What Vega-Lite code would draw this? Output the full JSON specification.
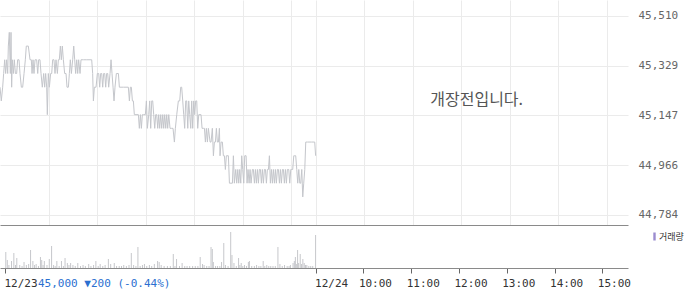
{
  "$schema": "https://vega.github.io/schema/vega-lite/v6.json",
  "padding": {"left": -1, "top": 0, "right": 0, "bottom": 0},
  "spacing": 1,
  "bounds": "flush",
  "config": {"view": {"stroke": null}, "font": "DejaVu Sans Mono"},
  "datasets": {
    "price": [
      {"t":0,"price":45250},{"t":1.6,"price":45200},{"t":3.3,"price":45250},{"t":4.5,"price":45300},{"t":5.8,"price":45350},{"t":7.0,"price":45300},{"t":8.2,"price":45350},{"t":9.5,"price":45300},{"t":10.3,"price":45400},{"t":11.5,"price":45450},{"t":12.8,"price":45300},{"t":13.6,"price":45450},{"t":14.4,"price":45250},{"t":15.2,"price":45350},{"t":16.5,"price":45300},{"t":17.7,"price":45350},{"t":19.0,"price":45300},{"t":20.6,"price":45300},{"t":21.8,"price":45350},{"t":23.5,"price":45350},{"t":24.7,"price":45300},{"t":26.4,"price":45250},{"t":28.0,"price":45250},{"t":29.7,"price":45300},{"t":31.3,"price":45350},{"t":32.5,"price":45400},{"t":35.0,"price":45400},{"t":37.1,"price":45350},{"t":38.7,"price":45350},{"t":39.6,"price":45300},{"t":40.8,"price":45350},{"t":42.0,"price":45300},{"t":43.3,"price":45350},{"t":45.3,"price":45350},{"t":46.6,"price":45300},{"t":47.8,"price":45350},{"t":49.4,"price":45350},{"t":50.7,"price":45300},{"t":52.3,"price":45250},{"t":54.0,"price":45300},{"t":55.2,"price":45250},{"t":56.4,"price":45300},{"t":57.7,"price":45250},{"t":58.5,"price":45150},{"t":59.7,"price":45300},{"t":61.0,"price":45250},{"t":62.6,"price":45300},{"t":63.9,"price":45300},{"t":65.1,"price":45350},{"t":66.7,"price":45350},{"t":68.0,"price":45300},{"t":69.2,"price":45350},{"t":70.9,"price":45300},{"t":72.1,"price":45350},{"t":73.3,"price":45350},{"t":74.6,"price":45400},{"t":75.8,"price":45350},{"t":77.0,"price":45400},{"t":78.3,"price":45350},{"t":79.9,"price":45300},{"t":81.6,"price":45300},{"t":82.8,"price":45250},{"t":84.5,"price":45250},{"t":85.7,"price":45300},{"t":86.9,"price":45350},{"t":88.2,"price":45300},{"t":89.8,"price":45350},{"t":91.1,"price":45400},{"t":92.3,"price":45350},{"t":93.5,"price":45300},{"t":94.8,"price":45350},{"t":96.0,"price":45300},{"t":97.2,"price":45350},{"t":98.9,"price":45300},{"t":100.1,"price":45350},{"t":103.0,"price":45350},{"t":107.1,"price":45350},{"t":113.3,"price":45350},{"t":114.5,"price":45300},{"t":115.4,"price":45200},{"t":116.6,"price":45250},{"t":118.7,"price":45250},{"t":120.3,"price":45300},{"t":122.0,"price":45300},{"t":123.2,"price":45250},{"t":124.4,"price":45300},{"t":125.7,"price":45300},{"t":126.9,"price":45250},{"t":128.1,"price":45300},{"t":129.4,"price":45300},{"t":130.6,"price":45250},{"t":131.8,"price":45300},{"t":133.1,"price":45300},{"t":134.3,"price":45250},{"t":136.0,"price":45300},{"t":137.2,"price":45350},{"t":138.4,"price":45300},{"t":139.7,"price":45250},{"t":140.9,"price":45200},{"t":142.1,"price":45250},{"t":143.8,"price":45300},{"t":146.3,"price":45300},{"t":147.5,"price":45250},{"t":152.4,"price":45250},{"t":158.6,"price":45250},{"t":159.9,"price":45200},{"t":161.1,"price":45250},{"t":162.3,"price":45250},{"t":163.6,"price":45200},{"t":164.8,"price":45200},{"t":166.0,"price":45150},{"t":171.0,"price":45150},{"t":172.2,"price":45100},{"t":173.5,"price":45150},{"t":174.7,"price":45100},{"t":175.9,"price":45150},{"t":177.2,"price":45150},{"t":179.6,"price":45150},{"t":180.9,"price":45200},{"t":182.1,"price":45100},{"t":183.8,"price":45150},{"t":185.0,"price":45200},{"t":186.2,"price":45100},{"t":187.5,"price":45200},{"t":188.7,"price":45200},{"t":189.9,"price":45150},{"t":191.2,"price":45100},{"t":192.4,"price":45150},{"t":193.6,"price":45150},{"t":194.9,"price":45100},{"t":196.1,"price":45150},{"t":197.3,"price":45100},{"t":198.6,"price":45150},{"t":199.8,"price":45100},{"t":201.1,"price":45150},{"t":202.3,"price":45100},{"t":203.5,"price":45150},{"t":204.8,"price":45100},{"t":206.0,"price":45150},{"t":207.2,"price":45100},{"t":208.5,"price":45150},{"t":210.1,"price":45100},{"t":212.2,"price":45100},{"t":213.8,"price":45100},{"t":215.5,"price":45050},{"t":216.7,"price":45100},{"t":218.4,"price":45150},{"t":220.4,"price":45200},{"t":222.1,"price":45200},{"t":223.3,"price":45250},{"t":224.5,"price":45250},{"t":225.8,"price":45200},{"t":227.0,"price":45150},{"t":228.2,"price":45100},{"t":229.5,"price":45200},{"t":230.7,"price":45200},{"t":232.0,"price":45100},{"t":233.2,"price":45200},{"t":234.4,"price":45150},{"t":235.7,"price":45100},{"t":236.9,"price":45200},{"t":238.1,"price":45100},{"t":239.4,"price":45200},{"t":240.6,"price":45150},{"t":241.8,"price":45200},{"t":243.1,"price":45200},{"t":244.3,"price":45100},{"t":245.6,"price":45150},{"t":247.2,"price":45150},{"t":248.4,"price":45150},{"t":249.7,"price":45100},{"t":251.3,"price":45100},{"t":252.6,"price":45100},{"t":253.8,"price":45050},{"t":255.0,"price":45100},{"t":256.3,"price":45050},{"t":257.5,"price":45100},{"t":259.6,"price":45050},{"t":260.8,"price":45050},{"t":262.4,"price":45100},{"t":263.7,"price":45000},{"t":264.9,"price":45050},{"t":266.2,"price":45050},{"t":267.4,"price":45100},{"t":268.6,"price":45050},{"t":269.9,"price":45050},{"t":271.1,"price":45100},{"t":271.9,"price":45000},{"t":273.2,"price":45050},{"t":274.8,"price":45050},{"t":276.0,"price":45000},{"t":277.3,"price":45000},{"t":278.5,"price":44950},{"t":279.7,"price":45000},{"t":282.2,"price":45000},{"t":283.5,"price":44900},{"t":287.2,"price":44900},{"t":288.4,"price":45000},{"t":289.6,"price":44900},{"t":291.3,"price":44950},{"t":292.5,"price":44900},{"t":293.8,"price":44950},{"t":295.0,"price":44900},{"t":296.2,"price":44950},{"t":297.5,"price":44900},{"t":298.7,"price":45000},{"t":299.9,"price":44950},{"t":301.2,"price":44900},{"t":302.4,"price":45000},{"t":304.1,"price":45000},{"t":305.3,"price":44900},{"t":306.5,"price":44950},{"t":307.8,"price":44900},{"t":309.0,"price":44950},{"t":310.2,"price":44900},{"t":311.9,"price":44950},{"t":313.1,"price":44950},{"t":314.4,"price":44900},{"t":315.6,"price":44950},{"t":316.8,"price":44900},{"t":318.1,"price":44950},{"t":319.3,"price":44900},{"t":320.5,"price":44950},{"t":321.8,"price":44950},{"t":323.0,"price":44900},{"t":324.2,"price":44950},{"t":325.5,"price":44900},{"t":326.7,"price":44950},{"t":328.0,"price":44950},{"t":329.2,"price":44900},{"t":330.4,"price":44950},{"t":331.7,"price":44950},{"t":332.9,"price":45000},{"t":334.1,"price":44900},{"t":335.4,"price":44950},{"t":336.6,"price":44900},{"t":337.8,"price":44950},{"t":339.1,"price":44900},{"t":340.3,"price":44950},{"t":341.5,"price":44900},{"t":342.8,"price":44950},{"t":344.0,"price":44950},{"t":345.3,"price":44900},{"t":346.5,"price":44950},{"t":347.7,"price":44900},{"t":349.0,"price":44950},{"t":350.2,"price":44950},{"t":351.4,"price":44900},{"t":352.7,"price":44950},{"t":353.9,"price":44900},{"t":355.1,"price":44950},{"t":356.8,"price":44950},{"t":358.0,"price":44900},{"t":359.3,"price":44950},{"t":360.5,"price":44950},{"t":361.7,"price":44950},{"t":363.0,"price":45000},{"t":364.2,"price":45000},{"t":365.4,"price":45000},{"t":366.7,"price":44950},{"t":367.9,"price":44900},{"t":369.2,"price":44950},{"t":370.4,"price":44900},{"t":371.6,"price":44900},{"t":372.9,"price":44950},{"t":374.1,"price":44850},{"t":375.3,"price":44900},{"t":376.6,"price":44950},{"t":377.8,"price":45050},{"t":379.9,"price":45050},{"t":385.2,"price":45050},{"t":388.9,"price":45050},{"t":390,"price":45000}
    ],
    "volume": [
      {"t":1,"vol":16},{"t":2.9,"vol":8},{"t":4.9,"vol":3},{"t":8.2,"vol":7},{"t":11.1,"vol":15},{"t":13.2,"vol":3},{"t":14.8,"vol":10},{"t":18.5,"vol":3},{"t":21.4,"vol":2},{"t":23.9,"vol":6},{"t":26.8,"vol":3},{"t":29.7,"vol":4},{"t":32.1,"vol":18},{"t":35.0,"vol":7},{"t":37.1,"vol":3},{"t":39.1,"vol":4},{"t":42.0,"vol":2},{"t":44.5,"vol":11},{"t":46.1,"vol":8},{"t":47.8,"vol":3},{"t":49.4,"vol":7},{"t":52.7,"vol":3},{"t":55.6,"vol":9},{"t":58.5,"vol":22},{"t":61.0,"vol":3},{"t":63.0,"vol":2},{"t":65.1,"vol":7},{"t":68.0,"vol":2},{"t":70.9,"vol":7},{"t":73.3,"vol":2},{"t":75.4,"vol":10},{"t":78.3,"vol":5},{"t":80.3,"vol":3},{"t":82.4,"vol":5},{"t":85.3,"vol":3},{"t":88.2,"vol":2},{"t":91.4,"vol":5},{"t":94.8,"vol":2},{"t":98.0,"vol":3},{"t":100.9,"vol":2},{"t":105.1,"vol":4},{"t":107.9,"vol":2},{"t":111.2,"vol":3},{"t":114.1,"vol":7},{"t":117.0,"vol":2},{"t":119.5,"vol":4},{"t":122.8,"vol":2},{"t":125.7,"vol":3},{"t":129.8,"vol":9},{"t":132.7,"vol":4},{"t":137.2,"vol":5},{"t":140.1,"vol":2},{"t":143.4,"vol":2},{"t":146.3,"vol":2},{"t":149.1,"vol":3},{"t":152.4,"vol":2},{"t":155.7,"vol":3},{"t":158.6,"vol":15},{"t":161.5,"vol":3},{"t":164.4,"vol":2},{"t":166.9,"vol":21},{"t":169.7,"vol":2},{"t":172.6,"vol":3},{"t":175.1,"vol":4},{"t":178.0,"vol":2},{"t":181.3,"vol":3},{"t":184.2,"vol":2},{"t":187.5,"vol":4},{"t":191.6,"vol":7},{"t":193.6,"vol":6},{"t":196.1,"vol":3},{"t":199.8,"vol":2},{"t":203.9,"vol":2},{"t":207.6,"vol":2},{"t":211.3,"vol":14},{"t":213.4,"vol":2},{"t":215.4,"vol":9},{"t":219.1,"vol":2},{"t":222.4,"vol":5},{"t":225.7,"vol":2},{"t":228.6,"vol":2},{"t":231.9,"vol":2},{"t":235.6,"vol":2},{"t":238.9,"vol":2},{"t":242.2,"vol":2},{"t":245.1,"vol":11},{"t":248.0,"vol":4},{"t":250.0,"vol":3},{"t":253.3,"vol":2},{"t":256.2,"vol":2},{"t":258.7,"vol":21},{"t":260.3,"vol":19},{"t":261.6,"vol":6},{"t":264.4,"vol":2},{"t":266.9,"vol":2},{"t":269.8,"vol":2},{"t":271.9,"vol":6},{"t":274.7,"vol":25},{"t":276.8,"vol":3},{"t":280.1,"vol":2},{"t":283.4,"vol":36},{"t":285.0,"vol":13},{"t":287.5,"vol":5},{"t":290.4,"vol":2},{"t":293.3,"vol":10},{"t":294.9,"vol":3},{"t":296.6,"vol":5},{"t":298.6,"vol":2},{"t":300.7,"vol":3},{"t":303.2,"vol":2},{"t":305.6,"vol":6},{"t":306.9,"vol":7},{"t":309.8,"vol":2},{"t":313.1,"vol":2},{"t":315.9,"vol":3},{"t":318.8,"vol":2},{"t":321.3,"vol":2},{"t":324.2,"vol":7},{"t":326.2,"vol":2},{"t":328.7,"vol":3},{"t":331.2,"vol":2},{"t":333.7,"vol":2},{"t":336.5,"vol":2},{"t":339.4,"vol":2},{"t":342.7,"vol":21},{"t":345.2,"vol":4},{"t":348.1,"vol":2},{"t":351.0,"vol":3},{"t":354.3,"vol":2},{"t":356.7,"vol":2},{"t":358.4,"vol":3},{"t":361.7,"vol":5},{"t":363.3,"vol":7},{"t":364.6,"vol":11},{"t":365.8,"vol":4},{"t":367.4,"vol":18},{"t":368.7,"vol":5},{"t":370.7,"vol":14},{"t":372.4,"vol":4},{"t":374.0,"vol":9},{"t":375.7,"vol":5},{"t":377.3,"vol":3},{"t":379.0,"vol":3},{"t":381.5,"vol":2},{"t":383.9,"vol":2},{"t":386.4,"vol":2},{"t":390,"vol":33}
    ]
  },
  "vconcat": [
    {
      "width": 628,
      "height": 225,
      "layer": [
        {
          "data": {"name": "price"},
          "mark": {"type": "line", "color": "#c4c6cb", "strokeWidth": 1, "strokeJoin": "round"},
          "encoding": {
            "x": {"field": "t", "type": "quantitative", "scale": {"domain": [0, 776], "nice": false, "zero": false},
                  "axis": {"values": [60,120,180,240,300,360,390,450,510,570,630,690,750], "grid": true, "gridColor": "#ebebeb", "labels": false, "ticks": false, "domain": true, "domainColor": "#8a8a8a", "title": null}},
            "y": {"field": "price", "type": "quantitative", "scale": {"domain": [44747.5, 45568], "nice": false, "zero": false},
                  "axis": {"orient": "right", "values": [44784,44966,45147,45329,45510], "format": ",d", "grid": true, "gridColor": "#ebebeb", "ticks": false, "domain": false, "labelPadding": 10, "labelFont": "DejaVu Sans Mono", "labelFontSize": 11, "labelColor": "#666666", "title": null}}
          }
        },
        {
          "data": {"values": [{"t": 589, "price": 45203, "msg": "개장전입니다."}]},
          "mark": {"type": "text", "font": "Noto Sans CJK KR", "fontSize": 16, "color": "#555555"},
          "encoding": {
            "x": {"field": "t", "type": "quantitative"},
            "y": {"field": "price", "type": "quantitative"},
            "text": {"field": "msg"}
          }
        }
      ]
    },
    {
      "width": 628,
      "height": 42,
      "title": {"text": "45,000 ▼200 (-0.44%)", "orient": "bottom", "anchor": "start", "color": "#2b6fd0", "font": "DejaVu Sans Mono", "fontSize": 11, "fontWeight": "normal", "dx": 38, "offset": -10},
      "layer": [
        {
          "data": {"name": "volume"},
          "mark": {"type": "bar", "width": 1, "color": "#c6c7cb"},
          "encoding": {
            "x": {"field": "t", "type": "quantitative", "scale": {"domain": [0, 776], "nice": false, "zero": false},
                  "axis": {"values": [0,390,450,510,570,630,690,750], "labelExpr": "datum.value == 0 ? '12/23' : datum.value == 390 ? '12/24' : (9 + (datum.value - 390) / 60) + ':00'", "grid": false, "tickSize": 5, "tickColor": "#666666", "domainColor": "#8a8a8a", "labelAlign": "left", "labelBaseline": "top", "labelPadding": 4, "labelOffset": {"condition": {"test": "datum.value < 400", "value": -1}, "value": -5}, "labelFont": "DejaVu Sans Mono", "labelFontSize": 11, "labelColor": "#333333", "labelFlush": false, "labelOverlap": false, "title": null}},
            "y": {"field": "vol", "type": "quantitative", "scale": {"domain": [0, 42], "nice": false}, "axis": null}
          }
        },
        {
          "data": {"values": []},
          "mark": {"type": "bar"},
          "encoding": {
            "color": {"datum": "거래량", "type": "nominal", "scale": {"range": ["#9b8ccf"]},
                      "legend": {"orient": "none", "legendX": 650, "legendY": 232, "title": null, "padding": 0, "symbolType": "M-0.3,-1H0.3V1H-0.3Z", "symbolSize": 64, "symbolStrokeWidth": 0, "symbolOpacity": 1, "labelFont": "Noto Sans CJK KR", "labelFontSize": 9, "labelColor": "#333333", "labelOffset": 0}}
          }
        }
      ]
    }
  ]
}
